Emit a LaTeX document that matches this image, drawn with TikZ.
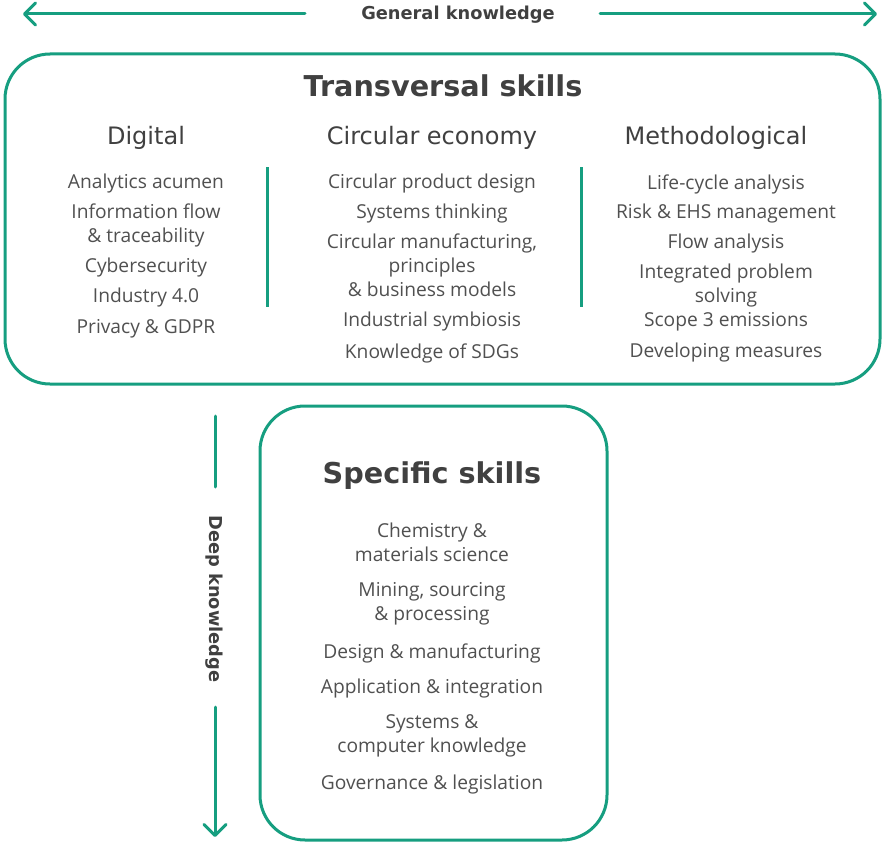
\documentclass[tikz,border=0pt]{standalone}
\usepackage{fontspec}
\setmainfont{DejaVu Sans}
\newfontfamily\itemfont{Open Sans}
\usetikzlibrary{arrows.meta}
\definecolor{teal1}{RGB}{22,158,128}
\definecolor{txtdark}{RGB}{64,64,64}
\definecolor{txtitem}{RGB}{80,80,80}
\begin{document}
\begin{tikzpicture}[x=1pt,y=-1pt,
  boxline/.style={draw=teal1,line width=3pt,rounded corners=45pt},
  sepline/.style={draw=teal1,line width=3pt},
  kline/.style={draw=teal1,line width=3pt,line cap=round},
  ktip/.style={-{Straight Barb[length=11pt,width=22pt,line width=3pt,line cap=round,round]}},
  bigtitle/.style={font=\fontsize{28.7}{32}\selectfont\bfseries,text=txtdark,inner sep=0pt},
  colhead/.style={font=\fontsize{24}{28}\selectfont,text=txtdark,inner sep=0pt},
  klabel/.style={font=\fontsize{17.8}{20}\selectfont\bfseries,text=txtdark,inner sep=0pt},
  skill/.style={font=\itemfont\fontsize{19.2}{24}\selectfont,text=txtitem,inner sep=0pt,align=center}
]
\useasboundingbox (0,0) rectangle (895,843);
% general knowledge arrow
\node[klabel] (gk) at (458,15) {General knowledge};
\coordinate (gkL1) at (305,14); \coordinate (gkL2) at (23,14);
\coordinate (gkR1) at (600,14); \coordinate (gkR2) at (877,14);
\draw[kline,ktip] (gkL1) -- (gkL2);
\draw[kline,ktip] (gkR1) -- (gkR2);
% transversal box
\draw[boxline] (5,54) rectangle (880,384);
\node[bigtitle] (ts) at (443,86) {Transversal skills};
\node[colhead] (dig) at (146,138) {Digital};
\node[colhead] (ce) at (432,138) {Circular economy};
\node[colhead] (met) at (716,138) {Methodological};
\coordinate (s1a) at (267,167); \coordinate (s1b) at (267,307);
\coordinate (s2a) at (581,167); \coordinate (s2b) at (581,307);
\draw[sepline] (s1a) -- (s1b);
\draw[sepline] (s2a) -- (s2b);
% digital
\node[skill] (d1) at (146,184) {Analytics acumen};
\node[skill] (d2) at (146,225) {Information flow\\\& traceability};
\node[skill] (d3) at (146,268) {Cybersecurity};
\node[skill] (d4) at (146,298) {Industry 4.0};
\node[skill] (d5) at (146,329) {Privacy \& GDPR};
% circular
\node[skill] (c1) at (432,184) {Circular product design};
\node[skill] (c2) at (432,214) {Systems thinking};
\node[skill] (c3) at (432,265) {Circular manufacturing,\\principles\\\& business models};
\node[skill] (c4) at (432,322) {Industrial symbiosis};
\node[skill] (c5) at (432,353) {Knowledge of SDGs};
% methodological
\node[skill] (m1) at (726,184) {Life-cycle analysis};
\node[skill] (m2) at (726,214) {Risk \& EHS management};
\node[skill] (m3) at (726,244) {Flow analysis};
\node[skill] (m4) at (726,286) {Integrated problem\\solving};
\node[skill] (m5) at (726,322) {Scope 3 emissions};
\node[skill] (m6) at (726,353) {Developing measures};
% specific box
\draw[boxline] (260,406) rectangle (607,840);
\node[bigtitle] (ss) at (432,476) {Specific skills};
\node[skill] (p1) at (432,542) {Chemistry \&\\materials science};
\node[skill] (p2) at (432,604) {Mining, sourcing\\\& processing};
\node[skill] (p3) at (432,653) {Design \& manufacturing};
\node[skill] (p4) at (432,689) {Application \& integration};
\node[skill] (p5) at (432,736) {Systems \&\\computer knowledge};
\node[skill] (p6) at (432,785) {Governance \& legislation};
% deep knowledge arrow
\node[klabel,rotate=-90] (dk) at (214,599) {Deep knowledge};
\coordinate (dkT1) at (215,416); \coordinate (dkT2) at (215,487);
\coordinate (dkB1) at (215,707); \coordinate (dkB2) at (215,837);
\draw[kline] (dkT1) -- (dkT2);
\draw[kline,ktip] (dkB1) -- (dkB2);
\end{tikzpicture}
\end{document}
